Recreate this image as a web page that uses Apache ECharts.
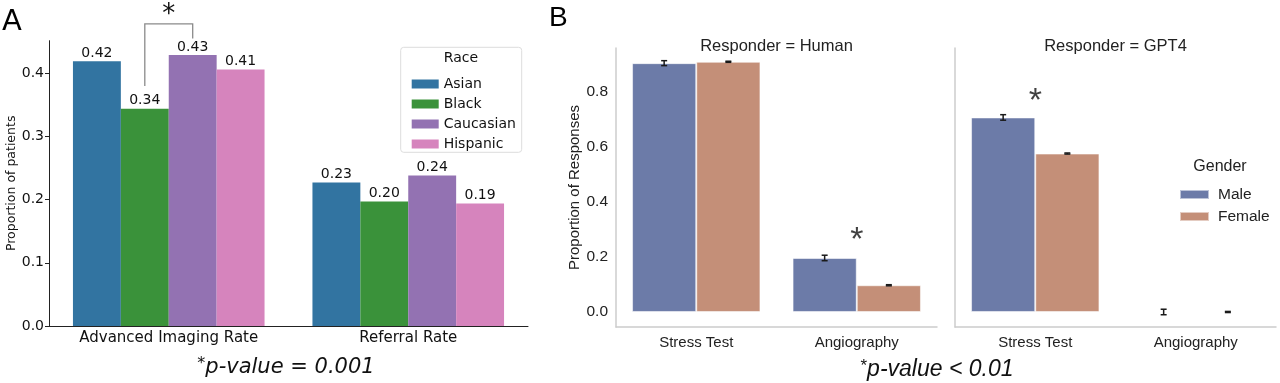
<!DOCTYPE html>
<html><head><meta charset="utf-8">
<script src="https://cdn.jsdelivr.net/npm/echarts@6/dist/echarts.min.js"></script>
<style>html,body{margin:0;padding:0;background:#fff}#c{width:1280px;height:383px}</style>
</head><body><div id="c"></div>
<script>
// ---------- Panel A data ----------
const raceCategories = ['Advanced Imaging Rate', 'Referral Rate'];
const raceNames = ['Asian', 'Black', 'Caucasian', 'Hispanic'];
const asianVals = [0.419, 0.227];
const blackVals = [0.344, 0.197];
const caucasianVals = [0.429, 0.238];
const hispanicVals = [0.406, 0.194];
const ticksA = [0, 0.1, 0.2, 0.3, 0.4];
// significance bracket (Black vs Caucasian, Advanced Imaging Rate): [category, leftFoot, top, rightFoot]
const bracketA = [[0, 0.38, 0.478, 0.455]];

// ---------- Panel B data ----------
const testCategories = ['Stress Test', 'Angiography'];
const genderNames = ['Male', 'Female'];
const humanMale = [0.903, 0.196];
const humanFemale = [0.908, 0.097];
const humanMaleErr = [0.009, 0.010];
const humanFemaleErr = [0.002, 0.002];
const gptMale = [0.706, 0.0];
const gptFemale = [0.575, 0.0];
const gptMaleErr = [0.010, 0.010];
const gptFemaleErr = [0.002, 0.002];
const ticksB = [0, 0.2, 0.4, 0.6, 0.8];
const starHuman = [['Angiography', 0.258]];
const starGpt = [['Stress Test', 0.765]];

const raceColors = ['#3274a1', '#3a923a', '#9372b2', '#d684bd'];
const genderColors = ['#6c7ba8', '#c48f78'];
const FA = 'DejaVu Sans';
const FB = '"Liberation Sans", Arial, sans-serif';

const chart = echarts.init(document.getElementById('c'), null, {renderer: 'canvas'});

function errRender(offsetFrac) {
  return function (params, api) {
    const c = api.value(0), v = api.value(1), e = api.value(2);
    const top = api.coord([c, v + e]);
    const bot = api.coord([c, v - e]);
    const band = api.size([1, 0])[0];
    const x = top[0] + offsetFrac * band;
    const cap = 3;
    const st = {stroke: '#1a1a1a', lineWidth: 1.5};
    return {type: 'group', children: [
      {type: 'line', shape: {x1: x, y1: top[1], x2: x, y2: bot[1]}, style: st},
      {type: 'line', shape: {x1: x - cap, y1: top[1], x2: x + cap, y2: top[1]}, style: st},
      {type: 'line', shape: {x1: x - cap, y1: bot[1], x2: x + cap, y2: bot[1]}, style: st}
    ]};
  };
}
function errData(vals, errs) { return vals.map((v, i) => [i, v, errs[i]]); }

const raceSeries = [asianVals, blackVals, caucasianVals, hispanicVals].map((vals, i) => ({
  name: raceNames[i], type: 'bar', xAxisIndex: 0, yAxisIndex: 0,
  data: vals, barGap: '0%', barCategoryGap: '20%',
  itemStyle: {color: raceColors[i]},
  label: {show: true, position: 'top', distance: 1, formatter: p => p.value.toFixed(2),
    fontFamily: FA, fontSize: 14, color: '#111'}
}));

function bSeries(vals, gi, name, color) {
  return {name: name, type: 'bar', xAxisIndex: gi, yAxisIndex: gi, data: vals,
    barGap: '0%', barCategoryGap: '20%',
    itemStyle: {color: color, borderColor: 'rgba(255,255,255,0.55)', borderWidth: 1}};
}

const option = {
  animation: false,
  textStyle: {fontFamily: FA},
  grid: [
    {left: 49, top: 40.7, width: 479, height: 285.3},
    {left: 616, top: 48, width: 321, height: 279},
    {left: 955, top: 48, width: 321, height: 279}
  ],
  xAxis: [
    {type: 'category', gridIndex: 0, data: raceCategories,
      axisLine: {lineStyle: {color: '#222', width: 1}},
      axisTick: {alignWithLabel: true, length: 4, lineStyle: {color: '#222'}},
      axisLabel: {fontFamily: FA, fontSize: 15, color: '#111', margin: 5}},
    {type: 'category', gridIndex: 1, data: testCategories,
      axisLine: {onZero: false, lineStyle: {color: '#cccccc', width: 1.5}},
      axisTick: {show: false},
      axisLabel: {fontFamily: FB, fontSize: 15, color: '#222', margin: 8}},
    {type: 'category', gridIndex: 2, data: testCategories,
      axisLine: {onZero: false, lineStyle: {color: '#cccccc', width: 1.5}},
      axisTick: {show: false},
      axisLabel: {fontFamily: FB, fontSize: 15, color: '#222', margin: 8}}
  ],
  yAxis: [
    {type: 'value', gridIndex: 0, min: 0, max: 0.4515,
      axisLine: {show: true, lineStyle: {color: '#222', width: 1}},
      axisTick: {show: true, length: 4, customValues: ticksA, lineStyle: {color: '#222'}},
      axisLabel: {customValues: ticksA, formatter: v => v.toFixed(1), fontFamily: FA, fontSize: 14, color: '#111', margin: 5},
      splitLine: {show: false},
      name: 'Proportion of patients', nameLocation: 'middle', nameGap: 31,
      nameTextStyle: {fontFamily: FA, fontSize: 12.5, color: '#111', padding: [0, 0, 0, 0]}},
    {type: 'value', gridIndex: 1, min: -0.0545, max: 0.958,
      axisLine: {show: true, lineStyle: {color: '#cccccc', width: 1.5}},
      axisTick: {show: false},
      axisLabel: {customValues: ticksB, formatter: v => v.toFixed(1), fontFamily: FB, fontSize: 15.5, color: '#222', margin: 8},
      splitLine: {show: false},
      name: 'Proportion of Responses', nameLocation: 'middle', nameGap: 34,
      nameTextStyle: {fontFamily: FB, fontSize: 15, color: '#222'}},
    {type: 'value', gridIndex: 2, min: -0.0545, max: 0.958,
      axisLine: {show: true, lineStyle: {color: '#cccccc', width: 1.5}},
      axisTick: {show: false}, axisLabel: {show: false}, splitLine: {show: false}}
  ],
  legend: [
    {data: raceNames, orient: 'vertical', left: 406.7, top: 72, itemWidth: 27, itemHeight: 9,
      itemGap: 6, icon: 'rect', selectedMode: false,
      textStyle: {fontFamily: FA, fontSize: 14, color: '#111', lineHeight: 14}},
    {data: genderNames, orient: 'vertical', left: 1174, top: 181.5, itemWidth: 29, itemHeight: 9,
      itemGap: 6, icon: 'rect', selectedMode: false,
      textStyle: {fontFamily: FB, fontSize: 15.5, color: '#222', lineHeight: 15, padding: [0, 0, 0, 4]}}
  ],
  graphic: [
    {type: 'rect', z: 0, shape: {x: 400.7, y: 47.3, width: 121, height: 105, r: 3},
      style: {fill: '#fff', stroke: '#dddddd', lineWidth: 1}},
    {type: 'text', x: 461, y: 58, style: {text: 'Race', font: '14px "DejaVu Sans"', fill: '#111', textAlign: 'center', textVerticalAlign: 'middle'}},
    {type: 'text', x: 1220, y: 167, style: {text: 'Gender', font: '16px "Liberation Sans"', fill: '#222', textAlign: 'center', textVerticalAlign: 'middle'}},
    {type: 'text', x: 2, y: 22, style: {text: 'A', font: '29px "DejaVu Sans"', fill: '#000', textVerticalAlign: 'middle'}},
    {type: 'text', x: 549, y: 18, style: {text: 'B', font: '28px "Liberation Sans"', fill: '#000', textVerticalAlign: 'middle'}},
    {type: 'text', x: 776.5, y: 46.5, style: {text: 'Responder = Human', font: '16.5px "Liberation Sans"', fill: '#222', textAlign: 'center', textVerticalAlign: 'middle'}},
    {type: 'text', x: 1115.5, y: 46.5, style: {text: 'Responder = GPT4', font: '16.5px "Liberation Sans"', fill: '#222', textAlign: 'center', textVerticalAlign: 'middle'}},
    {type: 'text', x: 286, y: 368, style: {
      text: '{s|*}{p|p-value = 0.001}', textAlign: 'center', textVerticalAlign: 'middle',
      rich: {s: {fontFamily: FA, fontSize: 16, fill: '#111', verticalAlign: 'top', padding: [0, 0, 8, 0]},
             p: {fontFamily: FA, fontStyle: 'italic', fontSize: 21, fill: '#111'}}}},
    {type: 'text', x: 937, y: 370, style: {
      text: '{s|*}{p|p-value < 0.01}', textAlign: 'center', textVerticalAlign: 'middle',
      rich: {s: {fontFamily: 'Liberation Sans', fontSize: 17, fill: '#111', verticalAlign: 'top', padding: [0, 0, 8, 0]},
             p: {fontFamily: 'Liberation Sans', fontStyle: 'italic', fontSize: 23, fill: '#111'}}}}
  ],
  series: raceSeries.concat([
    {type: 'custom', xAxisIndex: 0, yAxisIndex: 0, data: bracketA, z: 5, clip: false,
      renderItem: function (params, api) {
        const c = api.value(0);
        const band = api.size([1, 0])[0];
        const center = api.coord([c, 0])[0];
        const xl = center - 0.1 * band;   // Black bar centre
        const xr = center + 0.1 * band;   // Caucasian bar centre
        const yl = api.coord([c, api.value(1)])[1];
        const yt = api.coord([c, api.value(2)])[1];
        const yr = api.coord([c, api.value(3)])[1];
        return {type: 'group', children: [
          {type: 'polyline', shape: {points: [[xl, yl], [xl, yt], [xr, yt], [xr, yr]]},
            style: {stroke: '#8a8a8a', lineWidth: 1.3, fill: null}},
          {type: 'text', x: (xl + xr) / 2, y: yt - 9, style: {text: '*', font: '26px "DejaVu Sans"', fill: '#111', textAlign: 'center', textVerticalAlign: 'middle'}}
        ]};
      }},
    bSeries(humanMale, 1, 'Male', genderColors[0]),
    bSeries(humanFemale, 1, 'Female', genderColors[1]),
    bSeries(gptMale, 2, 'Male', genderColors[0]),
    bSeries(gptFemale, 2, 'Female', genderColors[1]),
    {type: 'custom', xAxisIndex: 1, yAxisIndex: 1, data: errData(humanMale, humanMaleErr), renderItem: errRender(-0.2), z: 6},
    {type: 'custom', xAxisIndex: 1, yAxisIndex: 1, data: errData(humanFemale, humanFemaleErr), renderItem: errRender(0.2), z: 6},
    {type: 'custom', xAxisIndex: 2, yAxisIndex: 2, data: errData(gptMale, gptMaleErr), renderItem: errRender(-0.2), z: 6},
    {type: 'custom', xAxisIndex: 2, yAxisIndex: 2, data: errData(gptFemale, gptFemaleErr), renderItem: errRender(0.2), z: 6},
    {type: 'scatter', xAxisIndex: 1, yAxisIndex: 1, data: starHuman, symbolSize: 0, silent: true,
      label: {show: true, position: 'inside', formatter: '*', fontFamily: FB, fontSize: 34, color: '#111'}},
    {type: 'scatter', xAxisIndex: 2, yAxisIndex: 2, data: starGpt, symbolSize: 0, silent: true,
      label: {show: true, position: 'inside', formatter: '*', fontFamily: FB, fontSize: 34, color: '#111'}}
  ])
};
chart.setOption(option);
</script>
</body></html>
